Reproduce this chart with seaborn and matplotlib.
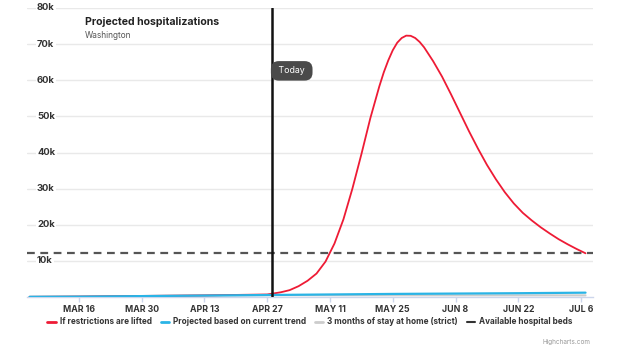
import matplotlib
matplotlib.use("Agg")
import matplotlib.pyplot as plt
import matplotlib.transforms as mtransforms
from matplotlib.lines import Line2D
import seaborn as sns
import pandas as pd

# ---------------- data ----------------
red_dates = ["2020-03-05", "2020-03-16", "2020-03-30", "2020-04-13", "2020-04-27",
             "2020-04-28", "2020-04-30", "2020-05-02", "2020-05-04", "2020-05-06",
             "2020-05-08", "2020-05-10", "2020-05-12", "2020-05-14", "2020-05-16",
             "2020-05-18", "2020-05-20", "2020-05-22", "2020-05-23", "2020-05-24",
             "2020-05-25", "2020-05-26", "2020-05-27", "2020-05-28", "2020-05-29",
             "2020-05-30", "2020-05-31", "2020-06-01", "2020-06-03", "2020-06-05",
             "2020-06-07", "2020-06-09", "2020-06-11", "2020-06-13", "2020-06-15",
             "2020-06-17", "2020-06-19", "2020-06-21", "2020-06-23", "2020-06-25",
             "2020-06-27", "2020-06-29", "2020-07-01", "2020-07-03", "2020-07-05",
             "2020-07-07"]
red_values = [50, 120, 300, 450, 700,
              900, 1300, 1900, 3000, 4500,
              6500, 9800, 14800, 21500, 30000,
              39500, 49500, 58300, 62200, 65500,
              68300, 70400, 71700, 72350, 72300,
              71700, 70600, 69100, 65300, 61000,
              56100, 51000, 45900, 41100, 36600,
              32600, 29000, 25900, 23300, 21200,
              19300, 17600, 16000, 14600, 13300,
              12100]

trend_dates = ["2020-03-05", "2020-03-16", "2020-03-30", "2020-04-13", "2020-04-27",
               "2020-05-11", "2020-05-25", "2020-06-08", "2020-06-22", "2020-07-07"]
trend_values = [50, 100, 250, 400, 550, 700, 850, 950, 1050, 1200]

strict_dates = ["2020-03-05", "2020-04-27", "2020-07-07"]
strict_values = [40, 500, 450]

hospital_beds = 12200
today = "2020-04-28"

y_ticks = [10000, 20000, 30000, 40000, 50000, 60000, 70000, 80000]
y_tick_labels = ["10k", "20k", "30k", "40k", "50k", "60k", "70k", "80k"]
x_ticks = ["2020-03-16", "2020-03-30", "2020-04-13", "2020-04-27", "2020-05-11",
           "2020-05-25", "2020-06-08", "2020-06-22", "2020-07-06"]
x_tick_labels = ["MAR 16", "MAR 30", "APR 13", "APR 27", "MAY 11",
                 "MAY 25", "JUN 8", "JUN 22", "JUL 6"]

series_names = ["If restrictions are lifted", "Projected based on current trend",
                "3 months of stay at home (strict)", "Available hospital beds"]
title = "Projected hospitalizations"
subtitle = "Washington"

# ---------------- style ----------------
sns.set_theme(style="white")
plt.rcParams["font.family"] = ["Inter", "DejaVu Sans"]

RED = "#ee1b35"
BLUE = "#2ab4e6"
GRAY = "#cccccc"
DARK = "#333333"

fig = plt.figure(figsize=(6.2, 3.5), dpi=100)
ax = fig.add_axes([27 / 620, 1 - 297 / 350, 566 / 620, 289 / 350])

df_red = pd.DataFrame({"date": pd.to_datetime(red_dates), "value": red_values})
df_trend = pd.DataFrame({"date": pd.to_datetime(trend_dates), "value": trend_values})
df_strict = pd.DataFrame({"date": pd.to_datetime(strict_dates), "value": strict_values})

sns.lineplot(data=df_strict, x="date", y="value", ax=ax, color=GRAY, lw=1.5, zorder=2)
sns.lineplot(data=df_red, x="date", y="value", ax=ax, color=RED, lw=1.3, zorder=3)
sns.lineplot(data=df_trend, x="date", y="value", ax=ax, color=BLUE, lw=1.6, zorder=4)

ax.axhline(hospital_beds, color="#555555", lw=1.6, ls=(0, (3.5, 2.5)), zorder=5)
ax.axvline(pd.Timestamp(today), color="#111111", lw=1.8, zorder=6)

ax.set_xlim(pd.Timestamp("2020-03-04 10:00"), pd.Timestamp("2020-07-08 16:00"))
ax.set_ylim(0, 80000)

# grid
for v in y_ticks:
    ax.axhline(v, color="#e9e9e9", lw=1, zorder=0)

for s in ["top", "right", "left"]:
    ax.spines[s].set_visible(False)
ax.spines["bottom"].set_color("#ccd6eb")
ax.spines["bottom"].set_linewidth(1)

ax.set_yticks([])
ax.set_xticks(pd.to_datetime(x_ticks))
ax.set_xticklabels(x_tick_labels, fontsize=6.3, fontweight="bold", color=DARK)
ax.tick_params(axis="x", length=3.5, color="#ccd6eb", width=1, pad=2.5, bottom=True)
ax.set_xlabel("")
ax.set_ylabel("")

# y labels drawn on gridlines
trans = mtransforms.blended_transform_factory(ax.transAxes, ax.transData)
for v, lab in zip(y_ticks, y_tick_labels):
    ax.text(0.0177, v, lab, transform=trans, ha="left", va="center",
            fontsize=6.8, fontweight="bold", color=DARK, zorder=7,
            bbox=dict(boxstyle="square,pad=0.15", fc="white", ec="none"))

# title
fig.text(85 / 620, 1 - 22 / 350, title, fontsize=7.6, fontweight="bold",
         color="#222222", ha="left", va="center")
fig.text(85 / 620, 1 - 36 / 350, subtitle, fontsize=6, color="#555555",
         ha="left", va="center")

# Today label
ax.annotate(" Today ", xy=(pd.Timestamp(today), 62600), xytext=(3.2, 0),
            textcoords="offset points", ha="left", va="center",
            fontsize=6.3, color="white", zorder=8,
            bbox=dict(boxstyle="round,pad=0.6,rounding_size=0.9",
                      fc="#4a4a4a", ec="none"))

# legend
handles = [
    Line2D([], [], color=RED, lw=2),
    Line2D([], [], color=BLUE, lw=2),
    Line2D([], [], color=GRAY, lw=2),
    Line2D([], [], color="#333333", lw=1.5),
]
leg = fig.legend(handles, series_names, loc="center", bbox_to_anchor=(0.5, 1 - 322 / 350),
                 ncol=4, frameon=False, handlelength=1.0, handletextpad=0.5,
                 columnspacing=1.1, prop={"size": 5.9, "weight": "bold"})
for t in leg.get_texts():
    t.set_color(DARK)

fig.text(590 / 620, 1 - 342 / 350, "Highcharts.com", fontsize=4.6, color="#999999",
         ha="right", va="center")

fig.savefig("out.png", dpi=100)
